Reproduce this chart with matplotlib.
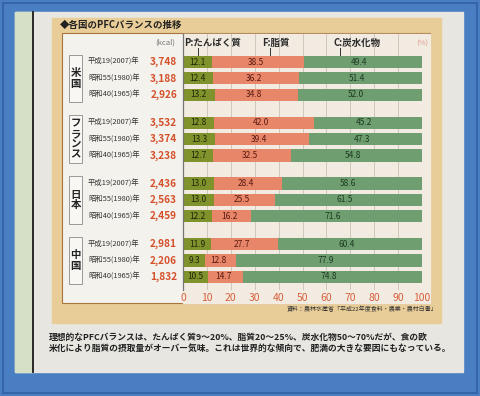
import numpy
import matplotlib
matplotlib.use("Agg")
import matplotlib.pyplot as plt
from matplotlib.patches import Rectangle

plt.rcParams['font.family'] = ['Noto Sans CJK JP', 'DejaVu Sans']

# donnees
pays = ['米国', 'フランス', '日本', '中国']
annees = ['平成19(2007)年', '昭和55(1980)年', '昭和40(1965)年']
kcal = [[3748, 3188, 2926], [3532, 3374, 3238], [2436, 2563, 2459], [2981, 2206, 1832]]
prot = [[12.1, 12.4, 13.2], [12.8, 13.3, 12.7], [13.0, 13.0, 12.2], [11.9, 9.3, 10.5]]
lip = [[38.5, 36.2, 34.8], [42.0, 39.4, 32.5], [28.4, 25.5, 16.2], [27.7, 12.8, 14.7]]
gluc = [[49.4, 51.4, 52.0], [45.2, 47.3, 54.8], [58.6, 61.5, 71.6], [60.4, 77.9, 74.8]]
graduations = [0, 10, 20, 30, 40, 50, 60, 70, 80, 90, 100]

titre = '◆各国のPFCバランスの推移'
source = '資料：農林水産省「平成22年度食料・農業・農村白書」'
legende1 = '理想的なPFCバランスは、たんぱく質9～20%、脂質20～25%、炭水化物50～70%だが、食の欧'
legende2 = '米化により脂質の摂取量がオーバー気味。これは世界的な傾向で、肥満の大きな要因にもなっている。'

col_p = '#7f922c'
col_f = '#e8866a'
col_c = '#6f9f70'
col_kcal = '#d4502a'

W, H = 480, 396
Y0, DY = 62, 16.41  # pixel du premier rang, pas entre rangs


def py(pos):
	return Y0 + pos * DY


fig = plt.figure(figsize=(W / 100, H / 100), dpi=100)
fig.patch.set_facecolor('#4a7ec3')

# fond (page, cadre)
ax0 = fig.add_axes([0, 0, 1, 1])
ax0.set_xlim(0, W)
ax0.set_ylim(H, 0)
ax0.axis('off')
ax0.add_patch(Rectangle((3, 3), W - 6, H - 6, fill=False, ec='#3565a6', lw=1.5))
ax0.add_patch(Rectangle((15, 12), 448, 360, color='#e7e6e1'))
ax0.add_patch(Rectangle((15, 12), 17, 360, color='#d5e0c6'))
ax0.plot([32.5, 32.5], [12, 372], color='#1a1a1a', lw=1.3)
ax0.add_patch(Rectangle((52, 18), 389, 305, color='#e8cd98'))
ax0.add_patch(Rectangle((62, 33), 368, 270, fc='#f4f2ed', ec='#a8743e', lw=0.8))
ax0.add_patch(Rectangle((183, 33.5), 247, 269, color='#f1ebe2'))

ax0.text(60, 25, titre, fontsize=6.8, fontweight='bold', color='#222222', va='center')
ax0.text(437, 309, source, fontsize=4.3, color='#333333', ha='right', va='center')
ax0.text(49, 337, legende1, fontsize=6.3, fontweight='bold', color='#222222', va='center')
ax0.text(49, 348, legende2, fontsize=6.3, fontweight='bold', color='#222222', va='center')

# entetes
ax0.text(175, 43, '(kcal)', fontsize=5.5, color='#777777', ha='right', va='center')

# positions des rangs
positions = []
for g in range(len(pays)):
	for i in range(len(annees)):
		positions.append(g * 3.7 + i)
positions = numpy.array(positions)

# etiquettes a gauche
for g in range(len(pays)):
	haut = py(g * 3.7 - 0.45)
	bas = py(g * 3.7 + 2.45)
	ax0.add_patch(Rectangle((69, haut), 13, bas - haut, fc='#f8f7f3', ec='#8a8a8a', lw=0.6))
	ax0.text(75.5, (haut + bas) / 2, '\n'.join(pays[g]), fontsize=7.5, fontweight='bold',
		color='#222222', ha='center', va='center', linespacing=1.05)
	for i in range(len(annees)):
		y = py(g * 3.7 + i)
		ax0.text(88, y, annees[i], fontsize=5.3, color='#333333', va='center')
		ax0.text(177, y, f'{kcal[g][i]:,}', fontsize=7.3, fontweight='bold',
			color=col_kcal, ha='right', va='center')

# barres
y_haut = 33.5
y_bas = 290
ax = fig.add_axes([183 / W, 1 - y_bas / H, (422 - 183) / W, (y_bas - y_haut) / H])
ax.patch.set_alpha(0)
ax.set_xlim(0, 100)
ax.set_ylim((y_bas - Y0) / DY, (y_haut - Y0) / DY)

p = numpy.array(prot).ravel()
f = numpy.array(lip).ravel()
c = numpy.array(gluc).ravel()
h = 0.74
ax.barh(positions, p, height=h, color=col_p, zorder=2)
ax.barh(positions, f, left=p, height=h, color=col_f, zorder=2)
ax.barh(positions, c, left=p + f, height=h, color=col_c, zorder=2)

for k in range(len(positions)):
	ax.text(p[k] / 2, positions[k], f'{p[k]:.1f}', fontsize=6, color='#1f2608', ha='center', va='center', zorder=3)
	ax.text(p[k] + f[k] / 2 - 1, positions[k], f'{f[k]:.1f}', fontsize=6, color='#5a1a0e', ha='center', va='center', zorder=3)
	ax.text(p[k] + f[k] + c[k] / 2 - 1.5, positions[k], f'{c[k]:.1f}', fontsize=6, color='#1d3a22', ha='center', va='center', zorder=3)

# legende en haut
ax.text(12.5, -1.15, 'P:たんぱく質', fontsize=6.8, fontweight='bold', color='#2a2a2a', ha='center', va='center')
ax.text(39, -1.15, 'F:脂質', fontsize=6.8, fontweight='bold', color='#2a2a2a', ha='center', va='center')
ax.text(73, -1.15, 'C:炭水化物', fontsize=6.8, fontweight='bold', color='#2a2a2a', ha='center', va='center')
ax.text(100, -1.15, '(%)', fontsize=5.5, color='#e0a08c', ha='center', va='center')
for xl in [6.3, 36.4, 65.7]:
	ax.plot([xl, xl], [-0.85, -0.4], color='#333333', lw=0.7, zorder=3)

ax.set_xticks(graduations)
ax.set_xticklabels([str(v) for v in graduations], fontsize=7.5, color='#d9603c')
ax.tick_params(axis='x', length=0, pad=2)
ax.set_yticks([])
ax.grid(axis='x', color='#cfc6ba', lw=0.7, zorder=0)
for s in ['top', 'right', 'bottom']:
	ax.spines[s].set_visible(False)
ax.spines['left'].set_color('#777777')
ax.spines['left'].set_linewidth(0.9)

fig.savefig('out.png', dpi=100, facecolor=fig.get_facecolor())
